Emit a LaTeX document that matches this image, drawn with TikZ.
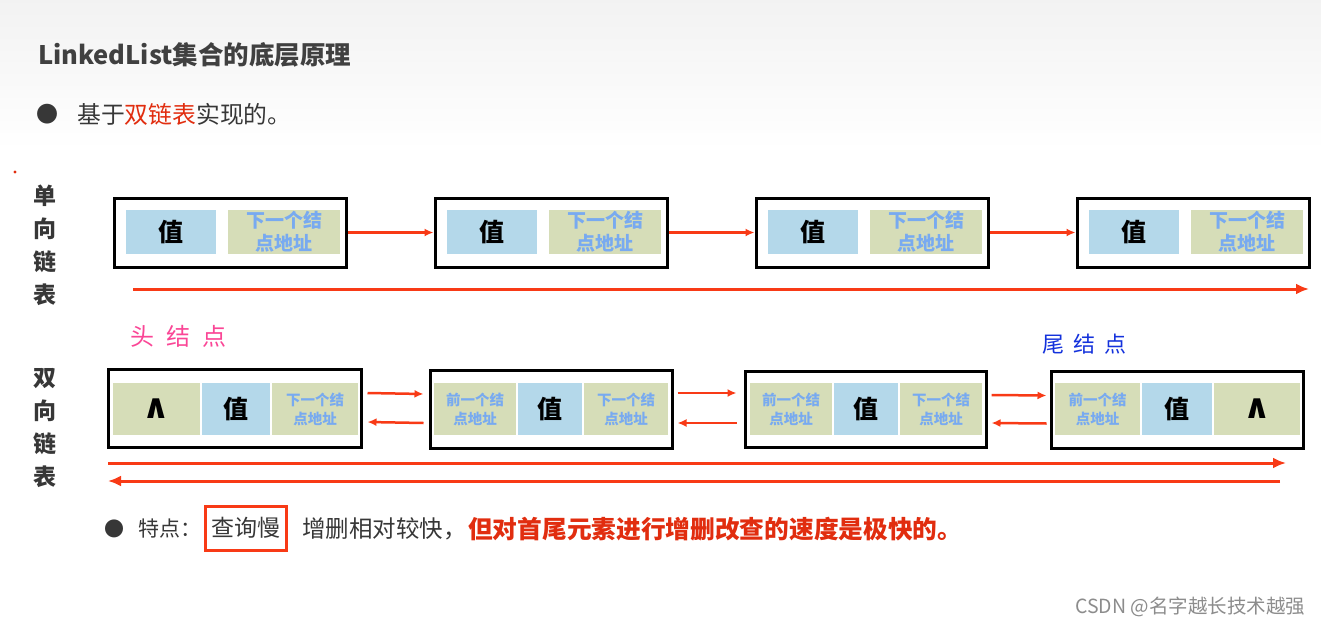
\documentclass[tikz,border=0pt]{standalone}
\usepackage{fontspec}
\setmainfont{Noto Sans CJK SC}
\newfontfamily\djv{DejaVu Sans}
\usetikzlibrary{arrows.meta}
\definecolor{arrred}{RGB}{248,58,22}
\definecolor{cellblue}{RGB}{180,216,234}
\definecolor{cellolive}{RGB}{214,221,184}
\definecolor{addrtxt}{RGB}{120,170,240}
\definecolor{titlegray}{RGB}{64,64,64}
\definecolor{txtgray}{RGB}{55,55,55}
\definecolor{hdpink}{RGB}{250,70,150}
\definecolor{tlblue}{RGB}{20,50,220}
\definecolor{redtxt}{RGB}{225,45,15}
\begin{document}
\begin{tikzpicture}[x=1pt,y=-1pt,
  outer/.style={draw=black,line width=3pt,inner sep=0pt},
  vcell/.style={fill=cellblue,inner sep=0pt,font=\fontsize{25}{25}\selectfont\bfseries},
  acell/.style={fill=cellolive,inner sep=0pt,text=addrtxt,align=center,font=\fontsize{19}{23}\selectfont\bfseries},
  sacell/.style={fill=cellolive,inner sep=0pt,text=addrtxt,align=center,font=\fontsize{14.5}{19}\selectfont\bfseries},
  nilcell/.style={fill=cellolive,inner sep=0pt,font=\djv\fontsize{34}{34}\selectfont\bfseries},
  rarr/.style={draw=arrred,line width=2.5pt,-{Latex[length=9pt,width=8pt]}},
  larr/.style={draw=arrred,line width=3pt,-{Latex[length=13pt,width=11pt]}},
  vlabel/.style={text=txtgray,align=center,font=\fontsize{23}{33}\selectfont\bfseries},
  plain/.style={inner sep=0pt,anchor=west}
]
\useasboundingbox (0,0) rectangle (1321,626);
\shade[top color=black!5,bottom color=white] (0,0) rectangle (1321,150);

% title
\node[plain,text=titlegray,font=\fontsize{25.5}{25.5}\selectfont\bfseries] (title) at (38,55) {LinkedList集合的底层原理};
\node[plain,text=txtgray,font=\fontsize{22}{22}\selectfont] (b1) at (36,114) {●};
\node[plain,text=txtgray,font=\fontsize{23.8}{23.8}\selectfont] (t1) at (77,114) {基于\textcolor{redtxt}{双链表}实现的。};
\fill[redtxt] (15,172) circle (1.6);

% vertical labels
\node[vlabel] (lab1) at (45,245) {单\\向\\链\\表};
\node[vlabel] (lab2) at (45,428.5) {双\\向\\链\\表};

% single linked list
\foreach \i in {1,...,4}{
  \pgfmathsetmacro\L{114+321*(\i-1)}
  \node[outer,minimum width=232,minimum height=69] (s\i) at (\L+116,232.5) {};
  \node[vcell,minimum width=90,minimum height=44] (s\i v) at (\L+57,232) {值};
  \node[acell,minimum width=112,minimum height=44] (s\i n) at (\L+170,232) {下一个结\\点地址};
}
\foreach \i/\j in {1/2,2/3,3/4}
  \draw[rarr] (s\i.east) -- (s\j.west);
\coordinate (sa1) at (133,289);
\coordinate (sa2) at (1309,289);
\draw[larr] (sa1) -- (sa2);

% labels
\node[plain,text=hdpink,font=\fontsize{24}{24}\selectfont] (head) at (130,336) {头\hspace{12pt}结\hspace{12pt}点};
\node[plain,text=tlblue,font=\fontsize{22}{22}\selectfont] (tail) at (1042,344) {尾\hspace{9pt}结\hspace{9pt}点};

% double linked list
\node[outer,minimum width=253,minimum height=78] (d1) at (234.5,408) {};
\node[nilcell,minimum width=87,minimum height=52] (d1p) at (156.5,409) {∧};
\node[vcell,minimum width=68,minimum height=52] (d1v) at (236,409) {值};
\node[sacell,minimum width=86,minimum height=52] (d1n) at (315,409) {下一个结\\点地址};

\node[outer,minimum width=242,minimum height=78] (d2) at (551,409) {};
\node[sacell,minimum width=82,minimum height=52] (d2p) at (475,409) {前一个结\\点地址};
\node[vcell,minimum width=64,minimum height=52] (d2v) at (550,409) {值};
\node[sacell,minimum width=84,minimum height=52] (d2n) at (626,409) {下一个结\\点地址};

\node[outer,minimum width=241,minimum height=76] (d3) at (865.5,409) {};
\node[sacell,minimum width=82,minimum height=52] (d3p) at (791,409) {前一个结\\点地址};
\node[vcell,minimum width=64,minimum height=52] (d3v) at (866,409) {值};
\node[sacell,minimum width=82,minimum height=52] (d3n) at (941,409) {下一个结\\点地址};

\node[outer,minimum width=252,minimum height=77] (d4) at (1177,409.5) {};
\node[sacell,minimum width=85,minimum height=52] (d4p) at (1097.5,409) {前一个结\\点地址};
\node[vcell,minimum width=70,minimum height=52] (d4v) at (1177,409) {值};
\node[nilcell,minimum width=86,minimum height=52] (d4n) at (1257,409) {∧};

\draw[rarr] ([xshift=5pt,yshift=15pt]d1.east) -- ([xshift=-5pt,yshift=15pt]d2.west);
\draw[rarr] ([xshift=-5pt,yshift=-14pt]d2.west) -- ([xshift=5pt,yshift=-14pt]d1.east);
\draw[rarr] ([xshift=4pt,yshift=16pt]d2.east) -- ([xshift=-7pt,yshift=16pt]d3.west);
\draw[rarr] ([xshift=-7pt,yshift=-14pt]d3.west) -- ([xshift=4pt,yshift=-14pt]d2.east);
\draw[rarr] ([xshift=4pt,yshift=14pt]d3.east) -- ([xshift=-3pt,yshift=14pt]d4.west);
\draw[rarr] ([xshift=-3pt,yshift=-14pt]d4.west) -- ([xshift=4pt,yshift=-14pt]d3.east);

\coordinate (da1) at (108,463);
\coordinate (da2) at (1286,463);
\coordinate (db1) at (1280,481);
\coordinate (db2) at (108,481);
\draw[larr] (da1) -- (da2);
\draw[larr] (db1) -- (db2);

% bottom line
\node[plain,text=txtgray,font=\fontsize{20}{20}\selectfont] (b2) at (104,529) {●};
\node[plain,text=txtgray,font=\fontsize{21}{21}\selectfont] (t2) at (138,529) {特点：};
\node[draw=arrred,line width=3pt,inner sep=4pt,minimum width=81,minimum height=44,text=txtgray,font=\fontsize{23}{23}\selectfont] (slow) at (245.5,528) {查询慢};
\node[plain,text=txtgray,font=\fontsize{23.5}{23.5}\selectfont] (t3) at (302,529) {增删相对较快，};
\node[plain,text=redtxt,font=\fontsize{24.7}{24.7}\selectfont\bfseries] (t4) at (468,529) {但对首尾元素进行增删改查的速度是极快的。};

% watermark
\node[plain,text=black!45,font=\fontsize{19.5}{19.5}\selectfont] (wm) at (1075,607) {CSDN @名字越长技术越强};
\end{tikzpicture}
\end{document}
